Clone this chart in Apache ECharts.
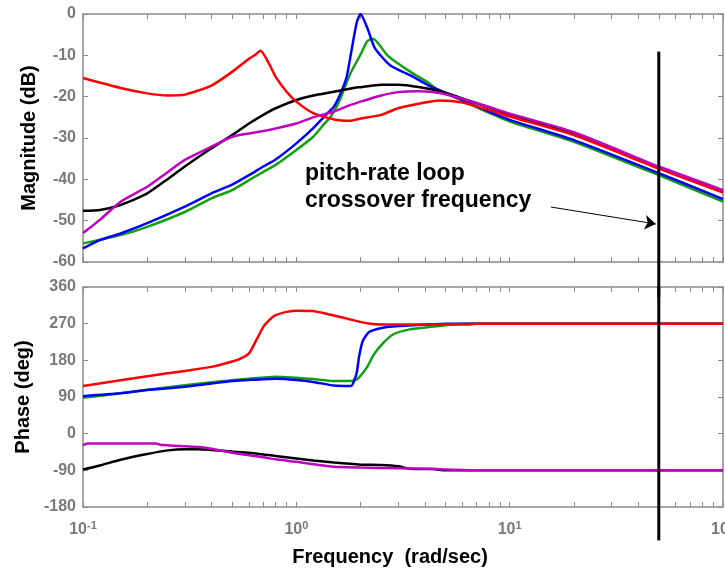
<!DOCTYPE html>
<html>
<head>
<meta charset="utf-8">
<script src="https://cdn.jsdelivr.net/npm/echarts@6/dist/echarts.min.js"></script>
<style>
  html, body { margin: 0; padding: 0; background: #fff; }
  #chart { width: 725px; height: 571px; }
</style>
</head>
<body>
<div id="chart"></div>
<script>
// ---- Bode response data (frequency in rad/sec) ----
const redMagFreq = [0.1, 0.15, 0.2, 0.25, 0.3, 0.4, 0.5, 0.6, 0.64, 0.68, 0.75, 0.8, 0.9, 1.0, 1.2, 1.5, 1.8, 2.0, 2.5, 3.0, 4.0, 4.7, 6, 8, 10, 20, 50, 100];
const redMag     = [-15.5, -17.9, -19.2, -19.7, -19.5, -17.3, -14.0, -10.8, -9.9, -8.9, -12.3, -15.2, -18.8, -21.2, -24.0, -25.5, -25.8, -25.3, -24.4, -22.8, -21.4, -20.9, -21.4, -23.2, -24.8, -29.3, -37.4, -43.2];

const blueMagFreq = [0.1, 0.12, 0.15, 0.2, 0.3, 0.4, 0.5, 0.6, 0.7, 0.8, 1.0, 1.2, 1.4, 1.5, 1.6, 1.72, 1.8, 1.92, 2.0, 2.16, 2.33, 2.75, 3.5, 4.2, 6, 8, 10, 20, 50, 100];
const blueMag     = [-56.7, -54.7, -53.1, -50.6, -46.6, -43.4, -41.3, -39.0, -36.9, -35.2, -31.3, -27.6, -24.0, -22.4, -19.6, -15.3, -9.8, -2.0, 0, -3.6, -8.2, -12.4, -15.1, -17.4, -20.8, -23.6, -25.6, -30.5, -38.5, -44.8];

const greenMagFreq = [0.1, 0.15, 0.2, 0.3, 0.4, 0.5, 0.6, 0.7, 0.8, 1.0, 1.2, 1.33, 1.45, 1.6, 1.78, 2.0, 2.15, 2.29, 2.67, 3.0, 3.5, 4.1, 4.5, 6, 8, 10, 20, 50, 100];
const greenMag     = [-55.5, -53.5, -51.5, -47.9, -44.6, -42.6, -40.2, -38.2, -36.5, -32.9, -29.7, -27.0, -24.8, -20.8, -14.7, -9.8, -6.6, -6.0, -10.0, -12.0, -14.3, -16.4, -18.0, -21.0, -23.9, -26.0, -30.9, -39.0, -45.4];

const blackMagFreq = [0.1, 0.12, 0.15, 0.2, 0.25, 0.3, 0.4, 0.5, 0.6, 0.7, 0.8, 1.0, 1.2, 1.5, 1.8, 2.0, 2.5, 3.0, 3.8, 4.7, 6, 8, 10, 20, 50, 100];
const blackMag     = [-47.6, -47.4, -46.2, -43.4, -39.9, -36.9, -32.5, -29.3, -26.5, -24.4, -22.8, -20.8, -19.7, -18.8, -18.0, -17.7, -17.1, -17.1, -17.7, -18.7, -20.4, -22.6, -24.3, -28.9, -37.2, -42.9];

const magentaMagFreq = [0.1, 0.12, 0.15, 0.2, 0.25, 0.3, 0.4, 0.5, 0.6, 0.7, 0.8, 1.0, 1.2, 1.5, 1.8, 2.0, 2.5, 3.0, 3.8, 4.7, 6, 8, 10, 20, 50, 100];
const magentaMag     = [-53.0, -49.8, -45.4, -41.8, -38.2, -35.3, -32.1, -29.7, -28.9, -28.3, -27.7, -26.5, -25.0, -23.6, -22.0, -21.2, -19.7, -18.9, -18.7, -19.1, -20.5, -22.5, -24.1, -28.6, -36.9, -42.6];

const redPhFreq = [0.1, 0.15, 0.2, 0.3, 0.4, 0.5, 0.55, 0.6, 0.65, 0.7, 0.75, 0.8, 0.9, 1.0, 1.2, 1.5, 1.8, 2.15, 2.5, 3.0, 5.0, 6.5, 7.0, 100];
const redPh     = [117, 131, 141, 154, 164, 177, 185, 197, 230, 262, 280, 291, 299, 302, 301, 290, 280, 271, 268, 268, 268, 268, 270, 270];

const bluePhFreq = [0.1, 0.15, 0.2, 0.3, 0.4, 0.5, 0.6, 0.8, 1.0, 1.2, 1.5, 1.8, 1.85, 1.92, 1.97, 2.05, 2.2, 2.55, 3.0, 4.1, 5.0, 100];
const bluePh     = [92, 99, 107, 115, 123, 129, 132, 135, 132, 127, 118, 117, 125, 150, 190, 228, 250, 260, 264, 268, 270, 270];

const greenPhFreq = [0.1, 0.15, 0.2, 0.3, 0.4, 0.5, 0.6, 0.8, 1.0, 1.2, 1.5, 1.8, 1.92, 2.0, 2.15, 2.3, 2.55, 2.85, 3.4, 4.1, 5.4, 6.5, 100];
const greenPh     = [88, 99, 108, 119, 126, 131, 135, 140, 137, 134, 129, 129, 133, 142, 164, 193, 222, 244, 256, 261, 268, 270, 270];

const blackPhFreq = [0.1, 0.12, 0.15, 0.2, 0.25, 0.3, 0.35, 0.4, 0.5, 0.6, 0.8, 1.0, 1.2, 1.5, 2.0, 2.5, 3.0, 3.4, 4.4, 5.0, 100];
const blackPh     = [-88, -78, -64, -50, -41, -38, -38, -40, -44, -47, -55, -61, -66, -71, -76, -77, -80, -86, -87, -90, -90];

const magentaPhFreq = [0.1, 0.105, 0.22, 0.23, 0.3, 0.35, 0.4, 0.5, 0.6, 0.7, 0.8, 1.0, 1.2, 1.5, 2.0, 3.0, 4.0, 5.0, 7.0, 100];
const magentaPh     = [-28, -24, -24, -27, -31, -33, -37, -47, -53, -58, -63, -69, -75, -81, -83, -85, -86, -88, -90, -90];

// pitch-rate loop crossover marker
const crossoverFreq = 50;
const crossoverMag = [-9.1, -68.5];     // top panel extent (runs past the axis)
const crossoverPhase = [360, -262];     // bottom panel extent (runs past the axis)
const arrowFrom = [15.6, -46.7];        // [rad/sec, dB]
const arrowTo = [48.4, -50.8];

// axis ranges and ticks
const decades = [-1, 0, 1, 2];
const magRange = [-60, 0, 10];
const phaseRange = [-180, 360, 90];

// ---- helpers ----
const FONT = '"Liberation Sans", Arial, Helvetica, sans-serif';
const AXIS_GRAY = '#8a8a8a';
const LABEL_GRAY = '#7a7a7a';
const lg = Math.log10;
const pts = (freqs, vals) => freqs.map((f, i) => [lg(f), vals[i]]);

// log-decade tick positions: 1..9 x 10^n
const logTicks = [];
for (let n = decades[0]; n < decades[decades.length - 1]; n++) {
  for (let k = 1; k <= 9; k++) logTicks.push(lg(k * Math.pow(10, n)));
}
logTicks.push(decades[decades.length - 1]);

const lineStyleAxis = { color: AXIS_GRAY, width: 1.5 };

function xAxisDef(gridIndex, position, withLabels) {
  const ax = {
    gridIndex, type: 'value', position,
    min: decades[0], max: decades[decades.length - 1], interval: 1,
    axisLine: { show: true, onZero: false, lineStyle: lineStyleAxis },
    axisTick: { show: true, inside: true, length: 5, customValues: logTicks, lineStyle: { color: AXIS_GRAY, width: 1 } },
    splitLine: { show: false },
    axisLabel: { show: false }
  };
  if (withLabels) {
    ax.axisLabel = {
      show: true, margin: 13, hideOverlap: false,
      formatter: v => '{b|10}{s|' + Math.round(v) + '}',
      rich: {
        b: { fontFamily: FONT, fontSize: 16, fontWeight: 'bold', color: LABEL_GRAY, lineHeight: 18, padding: [7, 0, 0, 0], verticalAlign: 'bottom' },
        s: { fontFamily: FONT, fontSize: 11, fontWeight: 'bold', color: LABEL_GRAY, lineHeight: 12, verticalAlign: 'top' }
      }
    };
    ax.name = 'Frequency  (rad/sec)';
    ax.nameLocation = 'middle';
    ax.nameGap = 40;
    ax.nameTextStyle = { fontFamily: FONT, fontSize: 20, fontWeight: 'bold', color: '#000', padding: [0, 26, 0, 0] };
  }
  return ax;
}

function yAxisDef(gridIndex, position, range, name, nameGap) {
  const ax = {
    gridIndex, type: 'value', position,
    min: range[0], max: range[1], interval: range[2],
    axisLine: { show: true, onZero: false, lineStyle: lineStyleAxis },
    axisTick: { show: true, inside: true, length: 5, lineStyle: { color: AXIS_GRAY, width: 1 } },
    splitLine: { show: false },
    axisLabel: { show: false }
  };
  if (name) {
    ax.axisLabel = { show: true, margin: 7, fontFamily: FONT, fontSize: 16, fontWeight: 'bold', color: LABEL_GRAY };
    ax.name = name;
    ax.nameLocation = 'middle';
    ax.nameRotate = 90;
    ax.nameGap = nameGap;
    ax.nameTextStyle = { fontFamily: FONT, fontSize: 20, fontWeight: 'bold', color: '#000' };
  }
  return ax;
}

function curve(data, color, xi, yi) {
  return {
    type: 'line', xAxisIndex: xi, yAxisIndex: yi, data,
    showSymbol: false, smooth: 0.2, silent: true,
    lineStyle: { color, width: 2.5 }, itemStyle: { color }
  };
}

const colors = { red: '#ff0000', blue: '#0000ff', green: '#12a012', black: '#000000', magenta: '#c000c0' };

const series = [
  // magnitude
  curve(pts(greenMagFreq, greenMag), colors.green, 0, 0),
  curve(pts(blueMagFreq, blueMag), colors.blue, 0, 0),
  curve(pts(blackMagFreq, blackMag), colors.black, 0, 0),
  curve(pts(redMagFreq, redMag), colors.red, 0, 0),
  curve(pts(magentaMagFreq, magentaMag), colors.magenta, 0, 0),
  // phase
  curve(pts(greenPhFreq, greenPh), colors.green, 2, 2),
  curve(pts(bluePhFreq, bluePh), colors.blue, 2, 2),
  curve(pts(blackPhFreq, blackPh), colors.black, 2, 2),
  curve(pts(redPhFreq, redPh), colors.red, 2, 2),
  curve(pts(magentaPhFreq, magentaPh), colors.magenta, 2, 2),
  // crossover line, top panel, with the annotation arrow
  {
    type: 'line', xAxisIndex: 0, yAxisIndex: 0, clip: false, silent: true,
    data: crossoverMag.map(v => [lg(crossoverFreq), v]),
    showSymbol: false, lineStyle: { color: '#000', width: 3 },
    markLine: {
      silent: true, symbol: ['none', 'arrow'], symbolSize: 11,
      lineStyle: { color: '#000', width: 1, type: 'solid' },
      label: { show: false },
      data: [[{ coord: [lg(arrowFrom[0]), arrowFrom[1]] }, { coord: [lg(arrowTo[0]), arrowTo[1]] }]]
    }
  },
  // crossover line, bottom panel
  {
    type: 'line', xAxisIndex: 2, yAxisIndex: 2, clip: false, silent: true,
    data: crossoverPhase.map(v => [lg(crossoverFreq), v]),
    showSymbol: false, lineStyle: { color: '#000', width: 3 }
  }
];

const chart = echarts.init(document.getElementById('chart'), null, { renderer: 'canvas' });
chart.setOption({
  animation: false,
  backgroundColor: '#ffffff',
  grid: [
    { left: 83, right: 2, top: 14, height: 248, containLabel: false, outerBoundsMode: 'none' },
    { left: 83, right: 2, top: 287, height: 220, containLabel: false, outerBoundsMode: 'none' }
  ],
  xAxis: [
    xAxisDef(0, 'bottom', false),
    xAxisDef(0, 'top', false),
    xAxisDef(1, 'bottom', true),
    xAxisDef(1, 'top', false)
  ],
  yAxis: [
    yAxisDef(0, 'left', magRange, 'Magnitude (dB)', 44),
    yAxisDef(0, 'right', magRange, null),
    yAxisDef(1, 'left', phaseRange, 'Phase (deg)', 50),
    yAxisDef(1, 'right', phaseRange, null)
  ],
  graphic: [{
    type: 'text', left: 305, top: 160, silent: true,
    style: { text: 'pitch-rate loop\ncrossover frequency', font: 'bold 23px ' + FONT, fill: '#000', lineHeight: 27 }
  }],
  series
});
</script>
</body>
</html>
